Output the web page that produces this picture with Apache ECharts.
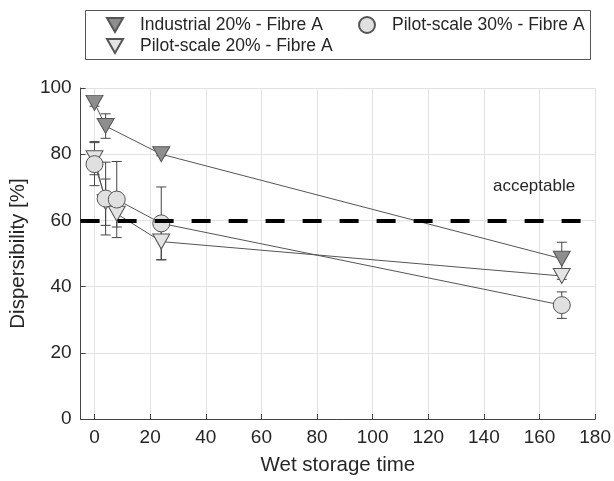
<!DOCTYPE html>
<html>
<head>
<meta charset="utf-8">
<script src="https://cdn.jsdelivr.net/npm/echarts@6/dist/echarts.min.js"></script>
<style>html,body{margin:0;padding:0;background:#fff;}#c{width:614px;height:481px;}</style>
</head>
<body>
<div id="c"></div>
<script>
// ---- data ----
const seriesNames = ['Industrial 20% - Fibre A', 'Pilot-scale 30% - Fibre A', 'Pilot-scale 20% - Fibre A'];
const indX = [0, 4, 24, 168];
const indY = [95.5, 88.5, 80, 48.4];
const indErr = [1, 3.7, 0.5, 5];
const p20X = [0, 4, 8, 24, 168];
const p20Y = [78.8, 65.5, 62, 53.6, 43.2];
const p20Err = [5, 7, 4, 5.5, 1];
const p30X = [0, 4, 8, 24, 168];
const p30Y = [77, 66.6, 66.3, 59.1, 34.4];
const p30Err = [6.5, 11, 11.5, 11, 4];
const xTicks = [0, 20, 40, 60, 80, 100, 120, 140, 160, 180];
const yTicks = [0, 20, 40, 60, 80, 100];
const threshold = 60;
const thresholdLabel = 'acceptable';

const FONT = 'Liberation Sans, Arial, sans-serif';
const TXT = '#262626';
const triDown = 'path://M0,0L16,0L8,14Z';

function pairs(xs, ys) { return xs.map((x, i) => [x, ys[i]]); }
function errData(xs, ys, es) { return xs.map((x, i) => [x, ys[i] - es[i], ys[i] + es[i]]); }

function errSeries(xs, ys, es) {
  return {
    type: 'custom',
    silent: true,
    z: 2,
    data: errData(xs, ys, es),
    renderItem: function (params, api) {
      const x = api.value(0);
      const lo = api.coord([x, api.value(1)]);
      const hi = api.coord([x, api.value(2)]);
      const w = 5;
      const st = { stroke: '#444', lineWidth: 1 };
      return {
        type: 'group',
        children: [
          { type: 'line', shape: { x1: lo[0], y1: lo[1], x2: hi[0], y2: hi[1] }, style: st },
          { type: 'line', shape: { x1: lo[0] - w, y1: lo[1], x2: lo[0] + w, y2: lo[1] }, style: st },
          { type: 'line', shape: { x1: hi[0] - w, y1: hi[1], x2: hi[0] + w, y2: hi[1] }, style: st }
        ]
      };
    }
  };
}

const legendText = { fontSize: 17.5, color: TXT, fontFamily: FONT, padding: [0, 0, 0, 12] };

const chart = echarts.init(document.getElementById('c'), null, { renderer: 'canvas' });
const option = {
  animation: false,
  backgroundColor: '#fff',
  textStyle: { fontFamily: FONT },
  grid: { left: 77, right: 15, top: 88, bottom: 58, containLabel: false },
  xAxis: {
    type: 'value', min: -5, max: 180,
    name: 'Wet storage time', nameLocation: 'middle', nameGap: 36,
    nameTextStyle: { fontSize: 20.5, color: TXT, fontFamily: FONT },
    axisLine: { show: true, onZero: false, lineStyle: { color: '#444', width: 1 } },
    axisTick: { show: true, inside: true, length: 5, customValues: xTicks, lineStyle: { color: '#444' } },
    axisLabel: { customValues: xTicks, fontSize: 19, color: TXT, margin: 9, fontFamily: FONT },
    splitLine: { show: true, customValues: xTicks, lineStyle: { color: '#e2e2e2', width: 1 } }
  },
  yAxis: {
    type: 'value', min: 0, max: 100, interval: 20,
    name: 'Dispersibility [%]', nameLocation: 'middle', nameGap: 45,
    nameTextStyle: { fontSize: 20.5, color: TXT, fontFamily: FONT },
    axisLine: { show: true, onZero: false, lineStyle: { color: '#444', width: 1 } },
    axisTick: { show: true, inside: true, length: 5, lineStyle: { color: '#444' } },
    axisLabel: { fontSize: 19, color: TXT, margin: 9, fontFamily: FONT },
    splitLine: { show: true, lineStyle: { color: '#e2e2e2', width: 1 } }
  },
  legend: [
    {
      left: 101, top: 11, itemWidth: 16, itemHeight: 14, itemGap: 0,
      data: [{ name: seriesNames[0], icon: triDown }],
      textStyle: legendText
    },
    {
      left: 353, top: 11, itemWidth: 16, itemHeight: 16, itemGap: 0,
      data: [{ name: seriesNames[1], icon: 'circle' }],
      textStyle: legendText
    },
    {
      left: 101, top: 32, itemWidth: 16, itemHeight: 14, itemGap: 0,
      data: [{ name: seriesNames[2], icon: triDown }],
      textStyle: legendText
    }
  ],
  graphic: [{
    type: 'rect', left: 85, top: 10, z: -1,
    shape: { width: 505, height: 49 },
    style: { fill: '#fff', stroke: '#555', lineWidth: 1 }
  }],
  series: [
    errSeries(indX, indY, indErr),
    errSeries(p20X, p20Y, p20Err),
    errSeries(p30X, p30Y, p30Err),
    {
      name: seriesNames[0], type: 'line', z: 3,
      data: pairs(indX, indY),
      symbol: triDown, symbolSize: [17, 15], showAllSymbol: true,
      lineStyle: { color: '#555', width: 1 },
      itemStyle: { color: '#8e8e8e', borderColor: '#555', borderWidth: 1, opacity: 1 },
      markLine: {
        silent: true, symbol: 'none', z: 4,
        data: [{ yAxis: threshold }],
        lineStyle: { color: '#000', width: 4, type: [19, 18] },
        label: { show: true, position: 'insideEndTop', formatter: thresholdLabel, fontSize: 17, color: TXT, fontFamily: FONT, distance: [20, 26] }
      }
    },
    {
      name: seriesNames[2], type: 'line', z: 3,
      data: pairs(p20X, p20Y),
      symbol: triDown, symbolSize: [17, 15], showAllSymbol: true,
      lineStyle: { color: '#555', width: 1 },
      itemStyle: { color: '#e4e4e4', borderColor: '#555', borderWidth: 1, opacity: 1 }
    },
    {
      name: seriesNames[1], type: 'line', z: 3,
      data: pairs(p30X, p30Y),
      symbol: 'circle', symbolSize: 17, showAllSymbol: true,
      lineStyle: { color: '#555', width: 1 },
      itemStyle: { color: '#e0e0e0', borderColor: '#555', borderWidth: 1, opacity: 1 }
    }
  ]
};
chart.setOption(option);
</script>
</body>
</html>
